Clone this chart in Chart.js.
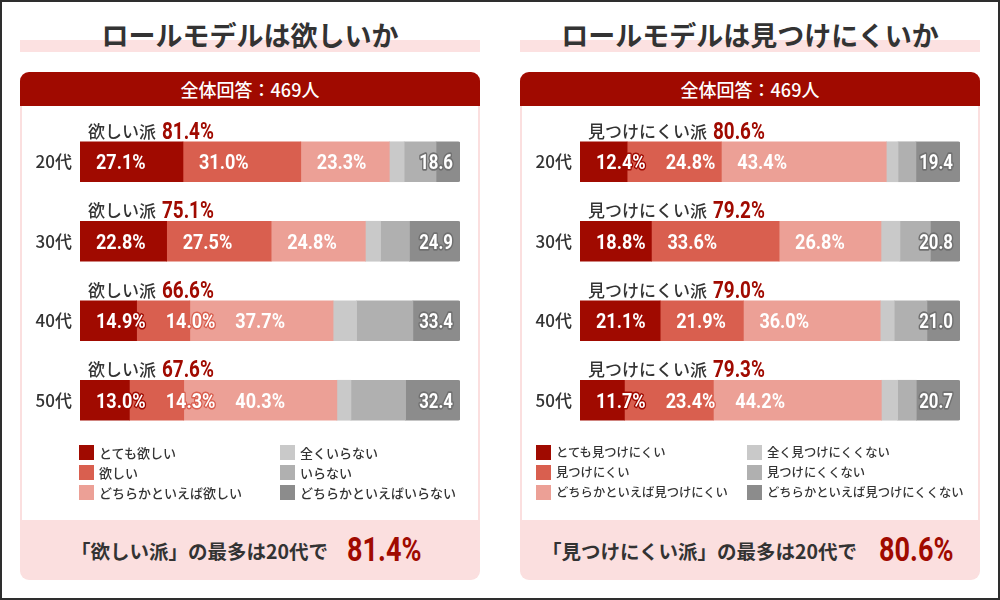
<!DOCTYPE html>
<html lang="ja">
<head>
<meta charset="utf-8">
<script src="https://cdn.jsdelivr.net/npm/chart.js@4.4.1/dist/chart.umd.min.js"></script>
<style>
  body { margin: 0; width: 1000px; height: 600px; position: relative; background: #fff; overflow: hidden;
         font-family: 'Noto Sans CJK JP', 'Noto Sans', sans-serif; color: #333; }
  .frame { position: absolute; left: 0; top: 0; width: 1000px; height: 600px; box-sizing: border-box;
           border: 2px solid #2e2e2e; pointer-events: none; z-index: 10; }
  .hl { position: absolute; top: 40px; width: 460px; height: 12px; background: #fce1e1; }
  .title { position: absolute; top: 15px; width: 460px; text-align: center; font-size: 27px; font-weight: 700;
           line-height: 40px; color: #333; z-index: 2; }
  .panel { position: absolute; top: 72px; width: 460px; height: 508px; border-radius: 9px; overflow: hidden;
           background: #fbdfdf; }
  .head { position: absolute; left: 0; top: 0; width: 460px; height: 34px; background: #a00a00; color: #fff;
          text-align: center; line-height: 34px; font-size: 18px; font-weight: 500; }
  .body { position: absolute; left: 2px; top: 34px; width: 456px; height: 414px; background: #fff; }
  .foot { position: absolute; top: 479px; font-size: 19.5px; font-weight: 700; color: #333; line-height: 0; white-space: nowrap; }
  .big { position: absolute; top: 478px; font-family: Roboto, sans-serif; font-size: 33px; font-weight: 700; color: #a00a00;
         line-height: 0; transform: scaleX(0.82); transform-origin: left center; white-space: nowrap; }
  canvas { position: absolute; top: 106px; z-index: 3; }
  .leg { position: absolute; font-weight: 500; color: #333; line-height: 15px; white-space: nowrap; z-index: 3; }
  .leg i { display: inline-block; width: 15px; height: 15px; vertical-align: top; margin-right: 5px; }
</style>
</head>
<body>
<div class="frame"></div>

<div class="hl" style="left:20px"></div>
<div class="title" style="left:20px">ロールモデルは欲しいか</div>
<div class="panel" style="left:20px">
  <div class="head">全体回答：469人</div>
  <div class="body"></div>
  <div class="foot" style="left:51px">「欲しい派」の最多は20代で</div>
  <div class="big" style="left:327px">81.4%</div>
</div>
<canvas id="wantChart" width="460" height="340" style="left:20px"></canvas>
<div id="wantLegend"></div>

<div class="hl" style="left:520px"></div>
<div class="title" style="left:520px">ロールモデルは見つけにくいか</div>
<div class="panel" style="left:520px">
  <div class="head">全体回答：469人</div>
  <div class="body"></div>
  <div class="foot" style="left:22px">「見つけにくい派」の最多は20代で</div>
  <div class="big" style="left:359px">80.6%</div>
</div>
<canvas id="hardChart" width="460" height="340" style="left:520px"></canvas>
<div id="hardLegend"></div>

<script>
// ----- データ -----
const ages = ['20代', '30代', '40代', '50代'];

// ロールモデルは欲しいか
const wantLabels = ['とても欲しい', '欲しい', 'どちらかといえば欲しい', '全くいらない', 'いらない', 'どちらかといえばいらない'];
const wantVery = [27.1, 22.8, 14.9, 13.0];
const wantYes = [31.0, 27.5, 14.0, 14.3];
const wantSomewhat = [23.3, 24.8, 37.7, 40.3];
const wantNone = [3.9, 4.0, 6.2, 3.7];
const wantNo = [8.4, 7.6, 14.8, 14.4];
const wantSomewhatNo = [6.3, 13.3, 12.4, 14.3];
const wantTotals = [81.4, 75.1, 66.6, 67.6];
const wantNegTotals = [18.6, 24.9, 33.4, 32.4];

// ロールモデルは見つけにくいか
const hardLabels = ['とても見つけにくい', '見つけにくい', 'どちらかといえば見つけにくい', '全く見つけにくくない', '見つけにくくない', 'どちらかといえば見つけにくくない'];
const hardVery = [12.4, 18.8, 21.1, 11.7];
const hardYes = [24.8, 33.6, 21.9, 23.4];
const hardSomewhat = [43.4, 26.8, 36.0, 44.2];
const hardNone = [3.1, 5.0, 3.7, 4.3];
const hardNo = [4.7, 8.0, 8.6, 4.9];
const hardSomewhatNo = [11.6, 7.8, 8.7, 11.5];
const hardTotals = [80.6, 79.2, 79.0, 79.3];
const hardNegTotals = [19.4, 20.8, 21.0, 20.7];

const COLORS = ['#a00a00', '#d95f4f', '#eca096', '#c9c9c9', '#b0b0b0', '#8c8c8c'];
const JP = "'Noto Sans CJK JP', 'Noto Sans', sans-serif";

// 細長い数字（コンデンス風）
function condensedText(ctx, text, x, y, opts) {
  const sx = opts.scale || 0.86;
  ctx.save();
  ctx.font = 'bold ' + opts.size + 'px Roboto, sans-serif';
  const w = ctx.measureText(text).width * sx;
  const left = opts.align === 'right' ? x - w : x;
  ctx.translate(left, y);
  ctx.scale(sx, 1);
  ctx.textAlign = 'left';
  ctx.textBaseline = 'alphabetic';
  if (opts.stroke) {
    ctx.lineJoin = 'round';
    ctx.lineWidth = opts.lineWidth || 3;
    ctx.strokeStyle = opts.stroke;
    ctx.strokeText(text, 0, 0);
  }
  ctx.fillStyle = opts.fill;
  ctx.fillText(text, 0, 0);
  ctx.restore();
  return w;
}

function makeLabelPlugin(groupName, totals, negTotals) {
  return {
    id: 'labels_' + groupName,
    afterDatasetsDraw(chart) {
      const ctx = chart.ctx;
      const metas = [0, 1, 2, 5].map(i => chart.getDatasetMeta(i));
      ages.forEach((a, i) => {
        // 上の見出し「〇〇派 81.4%」
        const first = metas[0].data[i];
        const top = first.y - first.height / 2;
        const x0 = chart.chartArea.left + 8;
        ctx.save();
        ctx.font = '500 17px ' + JP;
        ctx.fillStyle = '#333';
        ctx.textBaseline = 'alphabetic';
        ctx.fillText(groupName, x0, top - 4);
        const tw = ctx.measureText(groupName).width;
        ctx.restore();
        condensedText(ctx, totals[i].toFixed(1) + '%', x0 + tw + 6, top - 3, { size: 23, fill: '#a00a00', scale: 0.82 });

        // 肯定側3区分のラベル
        let prevEnd = -Infinity;
        for (let d = 0; d < 3; d++) {
          const el = metas[d].data[i];
          const start = Math.min(el.base, el.x);
          const val = chart.data.datasets[d].data[i];
          const lx = Math.max(start + 16, prevEnd + 20);
          const w = condensedText(ctx, val.toFixed(1) + '%', lx, el.y + 7.5,
            { size: 21, fill: '#fff', stroke: COLORS[d], lineWidth: 3, scale: 0.86 });
          prevEnd = lx + w;
        }
        // 否定側合計
        const last = metas[3].data[i];
        condensedText(ctx, negTotals[i].toFixed(1), Math.max(last.x, last.base) - 7, last.y + 7.5,
          { size: 21, fill: '#fff', stroke: '#707070', lineWidth: 3.5, scale: 0.8, align: 'right' });
      });
    }
  };
}

function buildChart(canvasId, series, labels, groupName, totals, negTotals) {
  const datasets = series.map((data, k) => ({
    label: labels[k],
    data,
    backgroundColor: COLORS[k],
    borderWidth: 0,
    borderSkipped: false,
    borderRadius: k === 5 ? { topLeft: 0, bottomLeft: 0, topRight: 2, bottomRight: 2 } : 0,
    barThickness: 40
  }));
  return new Chart(document.getElementById(canvasId), {
    type: 'bar',
    data: { labels: ages, datasets },
    options: {
      responsive: false, animation: false, indexAxis: 'y',
      layout: { padding: { top: 16, bottom: 6, right: 20, left: 0 } },
      plugins: { legend: { display: false }, tooltip: { enabled: false } },
      scales: {
        x: { stacked: true, min: 0, max: 100, display: false },
        y: {
          stacked: true,
          grid: { display: false, drawTicks: false }, border: { display: false },
          ticks: { color: '#333', padding: 8, font: { family: JP, size: 17, weight: '500' } },
          afterFit: s => { s.width = 60; s.paddingTop = 0; s.paddingBottom = 0; }
        }
      }
    },
    plugins: [makeLabelPlugin(groupName, totals, negTotals)]
  });
}

function buildLegend(id, labels, left, col2, size) {
  const el = document.getElementById(id);
  let h = '';
  labels.forEach((t, k) => {
    const x = k < 3 ? left : col2;
    const y = 445 + (k % 3) * 20;
    h += '<div class="leg" style="font-size:' + size + 'px;left:' + x + 'px;top:' + y + 'px"><i style="background:' + COLORS[k] + '"></i>' + t + '</div>';
  });
  el.innerHTML = h;
}

buildChart('wantChart', [wantVery, wantYes, wantSomewhat, wantNone, wantNo, wantSomewhatNo], wantLabels, '欲しい派', wantTotals, wantNegTotals);
buildChart('hardChart', [hardVery, hardYes, hardSomewhat, hardNone, hardNo, hardSomewhatNo], hardLabels, '見つけにくい派', hardTotals, hardNegTotals);
buildLegend('wantLegend', wantLabels, 79, 280, 13);
buildLegend('hardLegend', hardLabels, 536, 747, 12.3);
</script>
</body>
</html>
